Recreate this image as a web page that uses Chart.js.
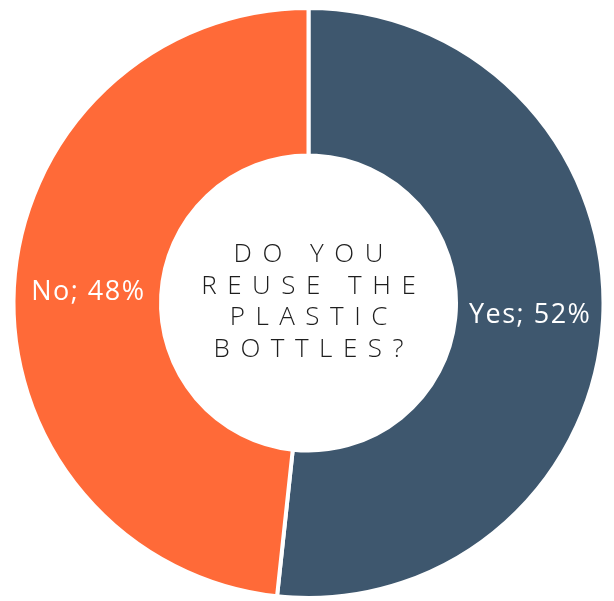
<!DOCTYPE html>
<html>
<head>
<meta charset="utf-8">
<script src="https://cdn.jsdelivr.net/npm/chart.js@4"></script>
<style>
  html, body { margin: 0; padding: 0; background: #ffffff; }
  #wrap { width: 614px; height: 601px; }
</style>
</head>
<body>
<div id="wrap"><canvas id="reuseChart" width="614" height="601"></canvas></div>
<script>
// Survey answers
const answers = ['Yes', 'No'];
const shares = [51.7, 48.3];
const sliceColors = ['#3E576E', '#FF6A38'];
const centerLines = ['DO YOU', 'REUSE THE', 'PLASTIC', 'BOTTLES?'];

// draw text one character at a time with extra spacing
function spacedText(ctx, text, cx, y, spacing) {
    let total = 0;
    for (const ch of text) total += ctx.measureText(ch).width + spacing;
    total -= spacing;
    let x = cx - total / 2;
    for (const ch of text) {
        ctx.fillText(ch, x, y);
        x += ctx.measureText(ch).width + spacing;
    }
}

// Plugin for the slice labels and the question in the hole
const labelPlugin = {
    id: 'labelPlugin',
    afterDatasetsDraw(chart) {
        const ctx = chart.ctx;
        const meta = chart.getDatasetMeta(0);
        ctx.save();
        ctx.fillStyle = '#ffffff';
        ctx.font = '400 27px "Open Sans"';
        ctx.textAlign = 'left';
        ctx.textBaseline = 'middle';
        meta.data.forEach((arc, i) => {
            const pos = arc.tooltipPosition();
            spacedText(ctx, answers[i] + '; ' + Math.round(shares[i]) + '%', pos.x, pos.y + 1, 1.5);
        });

        const first = meta.data[0];
        ctx.fillStyle = '#1e1e1e';
        ctx.font = '300 26px "Open Sans"';
        const lineGap = 31.7;
        const startY = first.y - lineGap * (centerLines.length - 1) / 2 - 1;
        centerLines.forEach((line, i) => {
            spacedText(ctx, line, first.x, startY + i * lineGap, 10.5);
        });
        ctx.restore();
    }
};

const ctx = document.getElementById('reuseChart').getContext('2d');
new Chart(ctx, {
    type: 'doughnut',
    data: {
        labels: answers,
        datasets: [{
            data: shares,
            backgroundColor: sliceColors,
            borderColor: '#ffffff',
            borderWidth: 4
        }]
    },
    options: {
        responsive: false,
        animation: false,
        cutout: '50%',
        layout: { padding: { top: 6, bottom: 1, left: 10, right: 7 } },
        plugins: {
            legend: { display: false },
            tooltip: { enabled: false }
        }
    },
    plugins: [labelPlugin]
});
</script>
</body>
</html>
